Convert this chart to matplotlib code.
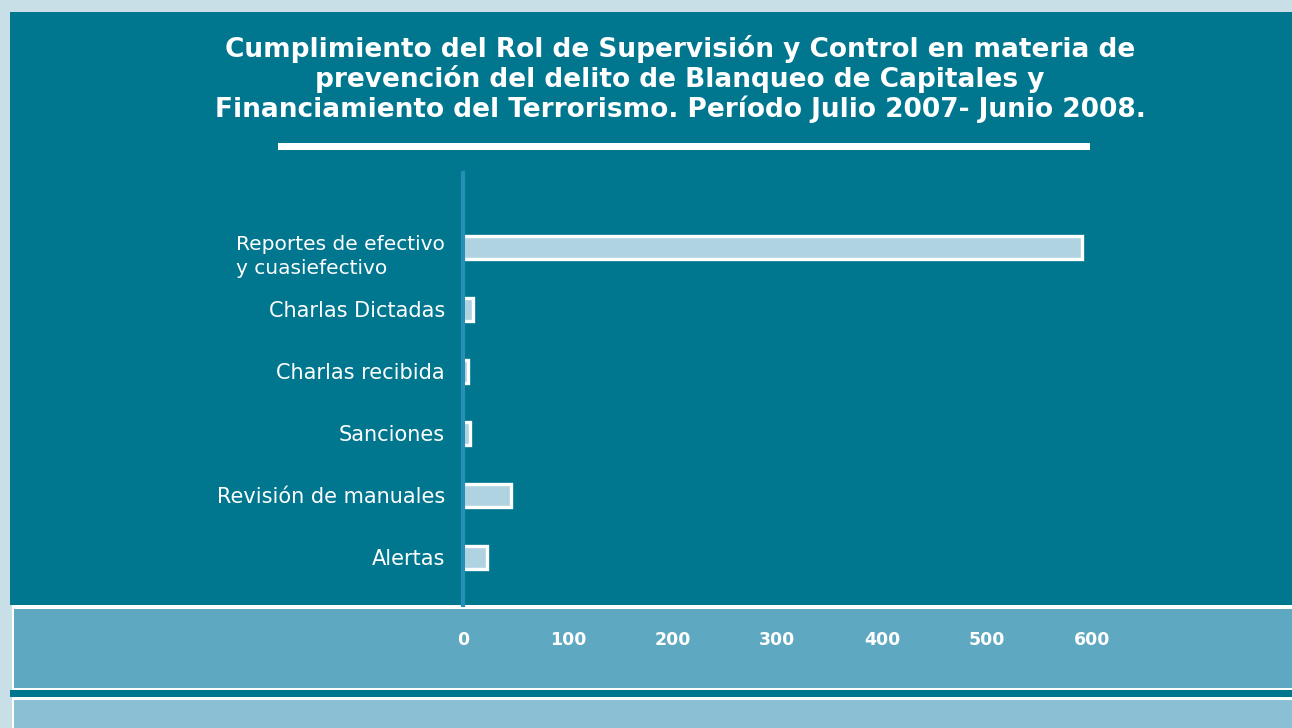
import matplotlib.pyplot as plt
import matplotlib.transforms as mtransforms
from matplotlib.patches import Rectangle

categories = ['Reportes de efectivo\ny cuasiefectivo', 'Charlas Dictadas', 'Charlas recibida',
              'Sanciones', 'Revisión de manuales', 'Alertas']
values = [590, 10, 5, 7, 46, 23]
ticks = [0, 100, 200, 300, 400, 500, 600]
tick_labels = ['0', '100', '200', '300', '400', '500', '600']
title = ('Cumplimiento del Rol de Supervisión y Control en materia de\n'
         'prevención del delito de Blanqueo de Capitales y\n'
         'Financiamiento del Terrorismo. Período Julio 2007- Junio 2008.')

W, H = 1292, 728
teal = '#00778f'
band = '#5ea9c1'
light = '#8abfd4'
border = '#c8dfe8'
bar_fill = '#b0d3e2'
axis_col = '#2590b4'

fig = plt.figure(figsize=(W / 100, H / 100), dpi=100)
fig.patch.set_facecolor(border)


def box(x0, y0, x1, y1, color):
    # pixel box, y measured from top
    fig.patches.append(Rectangle((x0 / W, 1 - y1 / H), (x1 - x0) / W, (y1 - y0) / H,
                                 transform=fig.transFigure, facecolor=color,
                                 edgecolor='none', zorder=-1))


box(10, 12, W, 605, teal)
box(12, 605, W, 690, 'white')
box(14, 609, W, 688, band)
box(10, 690, W, 697, teal)
box(12, 697, W, H, 'white')
box(14, 700, W, H, light)
box(278, 143, 1090, 150, 'white')

fig.text(680 / W, 1 - 79 / H, title, ha='center', va='center', color='white',
         fontsize=19, fontweight='bold', family='DejaVu Sans', linespacing=1.1)

# axes: x 0 at px 463, 600 at px 1092; y from px 173 to 605
ax = fig.add_axes([463 / W, 1 - 605 / H, (1092 - 463) / W, (605 - 173) / H])
ax.set_facecolor('none')
ax.set_xlim(0, 600)
ax.set_ylim(5.77, -1.2)
ypos = list(range(len(categories)))
ax.barh(ypos, values, height=0.37, color=bar_fill, edgecolor='white', linewidth=2.4)

for side in ['top', 'right', 'bottom']:
    ax.spines[side].set_visible(False)
ax.spines['left'].set_color(axis_col)
ax.spines['left'].set_linewidth(3)

ax.set_yticks(ypos)
ax.set_yticklabels(categories, fontsize=15, color='white', family='DejaVu Sans')
ax.tick_params(axis='y', length=0, pad=13)
ax.set_xticks(ticks)
ax.set_xticklabels(tick_labels, fontsize=12.5, fontweight='bold', color='white',
                   family='DejaVu Sans')
ax.tick_params(axis='x', length=0, pad=19)

lbl = ax.get_yticklabels()[0]
lbl.set_multialignment('left')
lbl.set_va('top')
lbl.set_fontsize(14.5)
lbl.set_linespacing(1.3)
lbl.set_transform(lbl.get_transform() + mtransforms.ScaledTranslation(0, 12 / 100, fig.dpi_scale_trans))

fig.savefig('out.png', dpi=100, facecolor=fig.get_facecolor())
